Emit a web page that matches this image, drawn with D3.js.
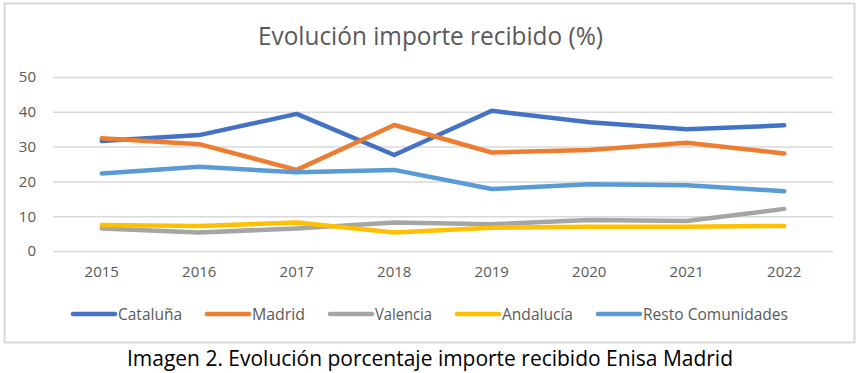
<!DOCTYPE html>
<html>
<head>
<meta charset="utf-8">
<script src="https://cdn.jsdelivr.net/npm/d3@7"></script>
<style>
  body { margin: 0; background: #fff; }
  svg text { font-family: "Open Sans", "Noto Sans", sans-serif; }
</style>
</head>
<body>
<svg id="chart"></svg>
<script>
const years = ['2015', '2016', '2017', '2018', '2019', '2020', '2021', '2022']
const yTicks = [0, 10, 20, 30, 40, 50]

const cataluna = [31.6, 33.3, 39.4, 27.6, 40.3, 37.0, 35.0, 36.1]
const madrid = [32.4, 30.7, 23.3, 36.2, 28.3, 29.0, 31.1, 28.0]
const valencia = [6.5, 5.3, 6.5, 8.2, 7.7, 8.9, 8.6, 12.1]
const andalucia = [7.5, 7.2, 8.2, 5.3, 6.7, 7.0, 7.0, 7.2]
const resto = [22.3, 24.2, 22.6, 23.3, 17.8, 19.2, 18.9, 17.2]

const seriesNames = ['Cataluña', 'Madrid', 'Valencia', 'Andalucía', 'Resto Comunidades']
const seriesColors = ['#4472C4', '#ED7D31', '#A5A5A5', '#FFC000', '#5B9BD5']

const series = [cataluna, madrid, valencia, andalucia, resto].map((values, i) => ({
  name: seriesNames[i], color: seriesColors[i], values
}))

const width = 861, height = 373

const svg = d3.select('#chart')
  .attr('width', width)
  .attr('height', height)

svg.append('rect')
  .attr('width', width).attr('height', height)
  .attr('fill', '#fff')

// chart frame
svg.append('rect')
  .attr('x', 4.5).attr('y', 3.5)
  .attr('width', 850).attr('height', 339)
  .attr('fill', '#fff')
  .attr('stroke', '#d9d9d9')
  .attr('stroke-width', 2)

const xScale = d3.scaleBand().domain(years).range([53, 833])
const yScale = d3.scaleLinear().domain([0, 50]).range([251, 77])
const xc = d => xScale(d) + xScale.bandwidth() / 2

// y axis + gridlines
const yAxis = svg.append('g')
  .attr('transform', 'translate(53,0)')
  .call(d3.axisLeft(yScale).tickValues(yTicks).tickSize(-780).tickPadding(17))

yAxis.select('.domain').remove()
yAxis.selectAll('line').attr('stroke', '#d9d9d9').attr('stroke-width', 1.5)
yAxis.selectAll('text')
  .attr('fill', '#595959')
  .style('font-size', '15px')

// x axis labels
const xAxis = svg.append('g')
  .attr('transform', 'translate(0,251)')
  .call(d3.axisBottom(xScale).tickSize(0).tickPadding(15))

xAxis.select('.domain').remove()
xAxis.selectAll('text')
  .attr('fill', '#595959')
  .style('font-size', '15px')

// lines
const line = d3.line()
  .x((d, i) => xc(years[i]))
  .y(d => yScale(d))

svg.append('g')
  .selectAll('path')
  .data(series)
  .join('path')
  .attr('d', d => line(d.values))
  .attr('fill', 'none')
  .attr('stroke', d => d.color)
  .attr('stroke-width', 4.5)
  .attr('stroke-linecap', 'round')
  .attr('stroke-linejoin', 'round')

// title
svg.append('text')
  .attr('x', 430.5).attr('y', 45)
  .attr('text-anchor', 'middle')
  .attr('fill', '#595959')
  .attr('textLength', 345)
  .attr('lengthAdjust', 'spacingAndGlyphs')
  .style('font-size', '25px')
  .text('Evolución importe recibido (%)')

// legend
const legendTextWidths = [64, 53, 57, 71, 145]
let lx = 73
const legend = svg.append('g')
series.forEach((s, i) => {
  const g = legend.append('g').attr('transform', `translate(${lx},314)`)
  g.append('line')
    .attr('x1', 0).attr('x2', 42)
    .attr('stroke', s.color)
    .attr('stroke-width', 4.5)
    .attr('stroke-linecap', 'round')
  g.append('text')
    .attr('x', 45).attr('y', 5.5)
    .attr('fill', '#595959')
    .attr('textLength', legendTextWidths[i])
    .attr('lengthAdjust', 'spacingAndGlyphs')
    .style('font-size', '16px')
    .text(s.name)
  lx += 45 + legendTextWidths[i] + 25
})

// caption below the chart
svg.append('text')
  .attr('x', 430).attr('y', 366)
  .attr('text-anchor', 'middle')
  .attr('fill', '#000')
  .attr('textLength', 606)
  .attr('lengthAdjust', 'spacingAndGlyphs')
  .style('font-size', '21px')
  .text('Imagen 2. Evolución porcentaje importe recibido Enisa Madrid')
</script>
</body>
</html>
